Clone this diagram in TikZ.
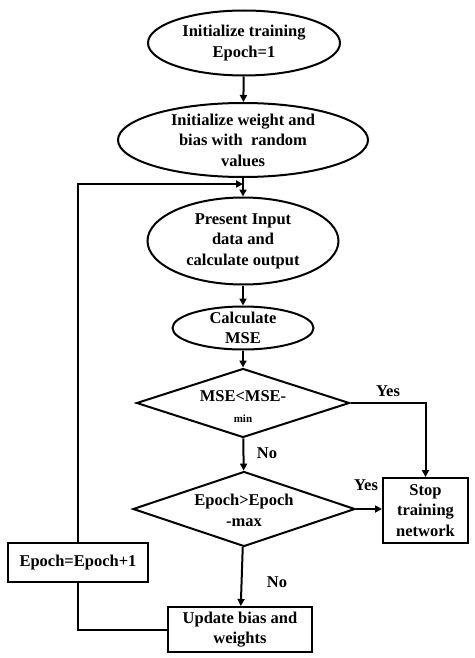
\documentclass[tikz,border=0pt]{standalone}
\usepackage{fontspec}
\setmainfont{Liberation Serif}
\usetikzlibrary{shapes,arrows.meta,positioning,calc}

\begin{document}
\begin{tikzpicture}[
		x=1pt, y=-1pt,
		% Node styles
		process/.style={draw, ellipse, line width=2pt, inner xsep=0pt, inner ysep=-6pt,
				font=\fontsize{16.5}{20.5}\selectfont\bfseries, align=center},
		decision/.style={draw, diamond, line width=2pt, inner sep=0pt},
		decision_text/.style={font=\fontsize{16.5}{21}\selectfont\bfseries, align=center},
		block/.style={draw, rectangle, line width=2pt, inner sep=0pt,
				font=\fontsize{16.5}{20.5}\selectfont\bfseries, align=center},
		answer/.style={font=\fontsize{16.5}{18}\selectfont\bfseries},
		connector/.style={-{Triangle[length=7pt,width=7pt]}, line width=2pt},
		link/.style={line width=2pt}
	]

	\useasboundingbox (0,0) rectangle (474,658);

	% Main flow
	\node[process, minimum width=192pt, minimum height=65pt] (init) at (244,43) {Initialize training\\Epoch=1};
	\node[process, minimum width=250pt, minimum height=74pt] (weights) at (243,140) {Initialize weight and\\bias with\ \ random\\values};
	\node[process, minimum width=191pt, minimum height=87pt] (present) at (243,241) {Present Input\\data and\\calculate output};
	\node[process, minimum width=141pt, minimum height=43pt] (mse) at (243,328) {Calculate\\MSE};

	% Decisions
	\node[decision, minimum width=213pt, minimum height=69pt] (check_mse) at (243,403) {};
	\node[decision_text] (check_mse_text) at (243,407) {MSE<MSE-\\{\fontsize{11}{12}\selectfont min}};
	\node[decision, minimum width=222pt, minimum height=75pt] (check_epoch) at (244,509) {};
	\node[decision_text] (check_epoch_text) at (244,510) {Epoch>Epoch\\-max};

	% Boxes
	\node[block, minimum width=85pt, minimum height=65pt] (stop) at (425.5,510.5) {Stop\\training\\network};
	\node[block, minimum width=144pt, minimum height=45pt] (update) at (240,629.5) {Update bias and\\weights};
	\node[block, minimum width=140pt, minimum height=39pt] (epoch) at (78,562.5) {Epoch=Epoch+1};

	\coordinate (join) at (243,184);

	% Connections
	\draw[connector] (init) -- (weights);
	\draw[link] (weights) -- (join);
	\draw[connector] (join) -- (present);
	\draw[connector] (present) -- (mse);
	\draw[connector] (mse) -- (check_mse);
	\draw[connector] (check_mse) -- (check_epoch);
	\draw[connector] (check_epoch) -- (update);
	\draw[connector] (check_mse.east) -| (stop.north);
	\draw[connector] (check_epoch.east) -- (check_epoch.east -| stop.west);

	% Loop back
	\draw[link] (update.west) -| (epoch.south);
	\draw[connector] (epoch.north) |- (join);

	% Labels
	\node[answer] (yes1) at (388,391) {Yes};
	\node[answer] (no1) at (267,453) {No};
	\node[answer] (yes2) at (366,485) {Yes};
	\node[answer] (no2) at (277,582) {No};

\end{tikzpicture}
\end{document}
